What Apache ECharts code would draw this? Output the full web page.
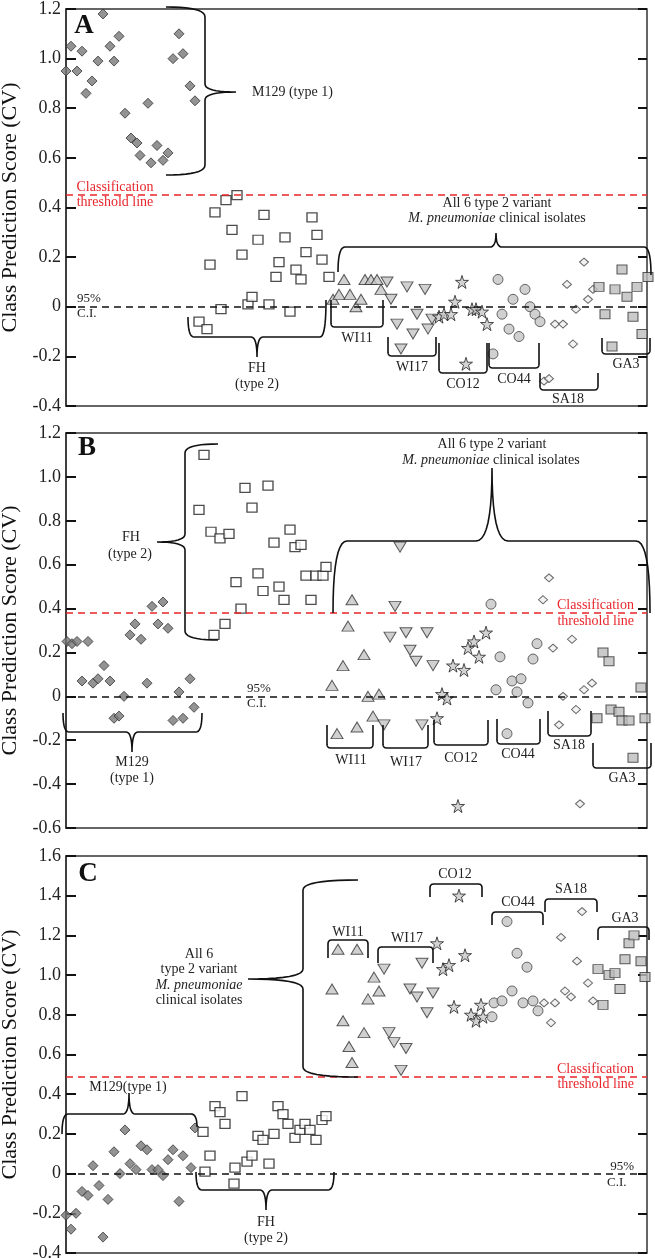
<!DOCTYPE html>
<html><head><meta charset="utf-8">
<script src="https://cdn.jsdelivr.net/npm/echarts@6/dist/echarts.min.js"></script>
<style>html,body{margin:0;padding:0;background:#fff}#c{width:655px;height:1258px}</style>
</head><body><div id="c"></div>
<script>
// x = position of the sample along the (unlabelled) horizontal axis, y = class prediction score
const groups = ['M129','FH','WI11','WI17','CO12','CO44','SA18','GA3'];
const yTitle = 'Class Prediction Score (CV)';

// ---- Panel A ----
const A_M129 = [[0,0.95],[5,1.05],[11,0.95],[16,1.03],[20,0.86],[26,0.91],[32,0.99],[37,1.18],[44,1.05],[48,0.99],[53,1.09],[59,0.78],[65,0.68],[71,0.66],[74,0.61],[82,0.82],[85,0.58],[91,0.65],[97,0.59],[102,0.62],[107,1.0],[113,1.10],[117,1.02],[124,0.89],[129,0.83]];
const A_FH = [[133,-0.06],[141,-0.09],[144,0.17],[149,0.38],[155,-0.01],[160,0.43],[166,0.31],[171,0.45],[176,0.21],[182,0.01],[186,0.04],[192,0.27],[198,0.37],[203,0.01],[210,0.12],[213,0.18],[219,0.28],[224,-0.02],[230,0.15],[235,0.11],[240,0.22],[246,0.36],[251,0.29],[256,0.19],[263,0.12]];
const A_WI11 = [[267,0.03],[273,0.05],[278,0.11],[284,0.05],[290,0.0],[295,0.03],[299,0.11],[305,0.11],[311,0.11],[315,0.07]];
const A_WI17 = [[321,0.10],[325,0.03],[331,-0.07],[335,-0.17],[341,0.08],[347,-0.11],[351,-0.03],[359,0.07],[362,-0.09],[366,-0.05]];
const A_CO12 = [[373,-0.04],[378,-0.03],[385,-0.03],[389,0.02],[396,0.10],[400,-0.23],[406,-0.01],[410,-0.01],[416,-0.02],[421,-0.07]];
const A_CO44 = [[427,-0.19],[432,0.11],[436,-0.03],[443,-0.09],[447,0.03],[453,-0.12],[459,0.07],[464,0.0],[469,-0.03],[474,-0.06]];
const A_SA18 = [[478,-0.30],[483,-0.29],[489,-0.07],[497,-0.07],[501,0.09],[507,-0.15],[510,-0.01],[518,0.18],[522,0.03],[527,0.07]];
const A_GA3 = [[533,0.08],[539,-0.03],[546,-0.16],[549,0.07],[556,0.15],[561,0.04],[567,-0.04],[571,0.08],[576,-0.11],[582,0.12]];

// ---- Panel B ----
const B_M129 = [[1,0.25],[6,0.24],[11,0.25],[16,0.07],[22,0.25],[27,0.06],[32,0.08],[38,0.14],[44,0.07],[48,-0.10],[53,-0.09],[58,0.0],[64,0.28],[69,0.33],[75,0.26],[81,0.06],[86,0.41],[92,0.33],[97,0.43],[102,0.31],[107,-0.11],[113,0.02],[117,-0.10],[124,0.08],[128,-0.05]];
const B_FH = [[133,0.85],[138,1.10],[145,0.75],[148,0.28],[154,0.72],[159,0.33],[163,0.74],[170,0.52],[175,0.40],[179,0.95],[186,0.86],[192,0.56],[197,0.48],[202,0.96],[208,0.70],[213,0.50],[218,0.44],[224,0.76],[229,0.68],[235,0.69],[240,0.55],[245,0.44],[250,0.55],[257,0.55],[260,0.59]];
const B_WI11 = [[266,0.05],[271,-0.17],[277,0.14],[282,0.32],[286,0.44],[291,-0.14],[298,0.19],[302,0.0],[307,-0.09],[313,0.01]];
const B_WI17 = [[318,-0.13],[324,0.27],[329,0.41],[334,0.68],[340,0.29],[344,0.21],[350,0.16],[356,-0.13],[361,0.29],[367,0.14]];
const B_CO12 = [[371,-0.10],[376,0.01],[381,-0.01],[387,0.14],[392,-0.50],[398,0.12],[402,0.22],[408,0.25],[413,0.18],[420,0.29]];
const B_CO44 = [[425,0.42],[430,0.03],[434,0.18],[441,-0.17],[446,0.07],[451,0.02],[455,0.08],[462,-0.03],[467,0.17],[471,0.24]];
const B_SA18 = [[477,0.44],[483,0.54],[487,0.22],[493,-0.13],[497,0.0],[506,0.26],[510,-0.06],[514,-0.49],[518,0.03],[526,0.06]];
const B_GA3 = [[531,-0.10],[537,0.20],[543,0.16],[545,-0.06],[553,-0.07],[556,-0.11],[563,-0.11],[567,-0.28],[575,0.04],[579,-0.10]];

// ---- Panel C ----
const C_M129 = [[0,-0.21],[5,-0.28],[10,-0.20],[16,-0.09],[22,-0.11],[27,0.04],[33,-0.06],[37,-0.32],[42,-0.13],[48,0.11],[54,0.0],[59,0.22],[64,0.05],[70,0.02],[75,0.14],[81,0.12],[86,0.02],[92,0.02],[97,-0.01],[102,0.07],[107,0.12],[113,-0.14],[117,0.09],[125,0.03],[129,0.23]];
const C_FH = [[137,0.21],[139,0.01],[144,0.09],[149,0.34],[154,0.31],[159,0.25],[168,-0.05],[169,0.03],[176,0.39],[181,0.06],[186,0.09],[192,0.19],[197,0.17],[203,0.05],[208,0.20],[212,0.34],[217,0.30],[222,0.25],[229,0.18],[234,0.22],[239,0.25],[244,0.22],[250,0.17],[256,0.27],[260,0.29]];
const C_WI11 = [[266,0.93],[272,1.13],[277,0.77],[283,0.64],[286,0.56],[291,1.13],[298,0.71],[302,0.88],[308,0.99],[313,0.92]];
const C_WI17 = [[318,1.03],[323,0.71],[328,0.66],[335,0.52],[340,0.63],[344,0.93],[351,0.89],[356,1.06],[361,0.81],[367,0.91]];
const C_CO12 = [[371,1.16],[377,1.03],[383,1.05],[388,0.84],[393,1.40],[399,1.10],[405,0.80],[410,0.77],[415,0.85],[417,0.79]];
const C_CO44 = [[426,0.79],[428,0.86],[436,0.87],[441,1.27],[446,0.92],[451,1.11],[457,0.86],[461,1.04],[467,0.87],[472,0.82]];
const C_SA18 = [[478,0.86],[485,0.76],[489,0.86],[495,1.19],[499,0.92],[505,0.89],[511,1.07],[516,1.32],[522,0.96],[527,0.87]];
const C_GA3 = [[532,1.03],[537,0.85],[543,1.00],[549,1.01],[554,0.93],[559,1.08],[563,1.16],[568,1.20],[575,1.07],[579,0.99]];

const thresholds = [0.45, 0.38, 0.49];
const yMins = [-0.4, -0.6, -0.4];
const yMaxs = [1.2, 1.2, 1.6];
const panelLetters = ['A','B','C'];

const panelData = [
  [A_M129,A_FH,A_WI11,A_WI17,A_CO12,A_CO44,A_SA18,A_GA3],
  [B_M129,B_FH,B_WI11,B_WI17,B_CO12,B_CO44,B_SA18,B_GA3],
  [C_M129,C_FH,C_WI11,C_WI17,C_CO12,C_CO44,C_SA18,C_GA3]
];

const FONT = 'Liberation Serif';
const RED = '#e8262b';
const STAR = 'path://M50,2 L61,36 L97,36 L68,57 L79,92 L50,71 L21,92 L32,57 L3,36 L39,36 Z';
const styles = {
  M129:{symbol:'diamond',symbolSize:[10,10],itemStyle:{color:'#787878',borderColor:'#333',borderWidth:1}},
  FH:{symbol:'rect',symbolSize:[10,9],itemStyle:{color:'#fff',borderColor:'#222',borderWidth:1.3}},
  WI11:{symbol:'triangle',symbolSize:[12,10],itemStyle:{color:'#c4c4c4',borderColor:'#333',borderWidth:1}},
  WI17:{symbol:'triangle',symbolRotate:180,symbolSize:[12,10],itemStyle:{color:'#c4c4c4',borderColor:'#333',borderWidth:1}},
  CO12:{symbol:STAR,symbolSize:[13,13],itemStyle:{color:'#c8c8c8',borderColor:'#222',borderWidth:1}},
  CO44:{symbol:'circle',symbolSize:10,itemStyle:{color:'#c4c4c4',borderColor:'#444',borderWidth:1}},
  SA18:{symbol:'diamond',symbolSize:[9,8],itemStyle:{color:'#efefef',borderColor:'#444',borderWidth:1}},
  GA3:{symbol:'rect',symbolSize:[10,9],itemStyle:{color:'#bdbdbd',borderColor:'#333',borderWidth:1}}
};

const gridTops = [9, 433, 856];
const gridHeights = [397, 395, 397];

const grids = [], xAxes = [], yAxes = [], series = [];
const fmt = v => Math.abs(v) < 1e-9 ? '0' : v.toFixed(1);
for (let i = 0; i < 3; i++) {
  grids.push({left:66, right:8, top:gridTops[i], height:gridHeights[i], containLabel:false, outerBoundsMode:'none',
    show:true, borderColor:'#333', borderWidth:1.5, backgroundColor:'transparent'});
  xAxes.push({gridIndex:i, type:'value', min:0, max:581, show:false});
}
for (let i = 0; i < 3; i++) {
  yAxes.push({gridIndex:i, type:'value', min:yMins[i], max:yMaxs[i], interval:0.2, position:'left',
    name:yTitle, nameLocation:'middle', nameGap:44,
    nameTextStyle:{fontFamily:FONT, fontSize:22, color:'#111'},
    axisLine:{show:true, lineStyle:{color:'#333', width:1.5}},
    axisTick:{show:true, inside:true, length:10, lineStyle:{color:'#111', width:2}},
    axisLabel:{margin:5, formatter:fmt, fontFamily:FONT, fontSize:18, color:'#222'},
    splitLine:{show:false}});
}
for (let i = 0; i < 3; i++) {
  yAxes.push({gridIndex:i, type:'value', min:yMins[i], max:yMaxs[i], interval:0.2, position:'right',
    axisLine:{show:false}, axisTick:{show:true, inside:true, length:9, lineStyle:{color:'#111', width:2}},
    axisLabel:{show:false}, splitLine:{show:false}});
}
for (let i = 0; i < 3; i++) {
  groups.forEach((g, k) => {
    const s = Object.assign({type:'scatter', name:panelLetters[i]+' '+g, xAxisIndex:i, yAxisIndex:i,
      data:panelData[i][k], clip:false, z:3, silent:true}, styles[g]);
    if (k === 0) {
      s.markLine = {silent:true, symbol:['none','none'], label:{show:false}, animation:false,
        data:[
          {yAxis:0, lineStyle:{color:'#111', type:[7,5], width:1.6}},
          {yAxis:thresholds[i], lineStyle:{color:RED, type:[7,5], width:1.6}}
        ]};
    }
    series.push(s);
  });
}

// ---- annotation helpers (curves sampled into polylines) ----
function Shape(x, y){ this.pts = [[x, y]]; }
Shape.prototype.L = function(x, y){ this.pts.push([x, y]); return this; };
Shape.prototype.Q = function(cx, cy, x, y){
  const p = this.pts[this.pts.length-1];
  for (let t = 1; t <= 10; t++) { const u = t/10, a = 1-u;
    this.pts.push([a*a*p[0] + 2*a*u*cx + u*u*x, a*a*p[1] + 2*a*u*cy + u*u*y]); }
  return this;
};
function P(sh, lw){ return {type:'polyline', shape:{points:sh.pts}, style:{fill:null, stroke:'#111', lineWidth:lw||1.6}, z:10, silent:true}; }
function T(s, x, y, o){ return {type:'text', x:x, y:y, z:10, silent:true,
  style:Object.assign({text:s, fontFamily:FONT, fontSize:14, fill:'#222', align:'center', verticalAlign:'middle'}, o||{})}; }
function vBrace(x, y1, y2, endX, tipX, tipY, r, w){
  return new Shape(endX, y1).Q(x, y1, x, y1+r).L(x, tipY-w).Q(x, tipY, tipX, tipY)
    .Q(x, tipY, x, tipY+w).L(x, y2-r).Q(x, y2, endX, y2);
}
function hBrace(y, x1, x2, e1, e2, tipX, tipY, r, w){
  return new Shape(x1, e1).Q(x1, y, x1+r, y).L(tipX-w, y).Q(tipX, y, tipX, tipY)
    .Q(tipX, y, tipX+w, y).L(x2-r, y).Q(x2, y, x2, e2);
}
function bracket(x1, x2, yEnd, yBase){
  const r = 4, s = yBase > yEnd ? -1 : 1;
  return new Shape(x1, yEnd).L(x1, yBase+s*r).Q(x1, yBase, x1+r, yBase).L(x2-r, yBase)
    .Q(x2, yBase, x2, yBase+s*r).L(x2, yEnd);
}
const italicRich = {i:{fontStyle:'italic', fontFamily:FONT, fontSize:14, fill:'#222'}};

const G = [];
// Panel A
G.push(T('A', 84, 26, {fontSize:27, fontWeight:'bold', fill:'#111'}));
G.push(P(vBrace(205, 7, 175, 166, 236, 92, 10, 8)));
G.push(T('M129 (type 1)', 252, 92, {align:'left'}));
G.push(P(hBrace(337, 188, 326, 317, 300, 257, 357, 6, 6)));
G.push(T('FH', 257, 368), T('(type 2)', 257, 384));
G.push(T('Classification', 115, 187, {fill:RED}), T('threshold line', 115, 202, {fill:RED}));
G.push(T('95%', 77, 299, {align:'left', fontSize:13}), T('C.I.', 77, 314, {align:'left', fontSize:13}));
G.push(P(hBrace(247, 338, 651, 272, 275, 496, 233, 7, 6)));
G.push(T('All 6 type 2 variant', 497, 203));
G.push(T('{i|M. pneumoniae} clinical isolates', 497, 218, {rich:italicRich}));
[[331,383,300,327,'WI11',357,338],[388,436,337,356,'WI17',412,367],[439,487,343,373,'CO12',463,384],
 [489,539,343,368,'CO44',514,379],[540,598,373,390,'SA18',568,399],[602,650,338,354,'GA3',626,364]]
 .forEach(b => { G.push(P(bracket(b[0],b[1],b[2],b[3]))); G.push(T(b[4], b[5], b[6])); });

// Panel B
G.push(T('B', 87, 448, {fontSize:27, fontWeight:'bold', fill:'#111'}));
G.push(P(vBrace(185, 444, 640, 218, 157, 542, 9, 8)));
G.push(T('FH', 131, 537), T('(type 2)', 130, 554));
G.push(P(hBrace(732, 63, 202, 713, 713, 132, 752, 6, 6)));
G.push(T('M129', 132, 762), T('(type 1)', 132, 778));
G.push(T('95%', 247, 689, {align:'left', fontSize:13}), T('C.I.', 247, 704, {align:'left', fontSize:13}));
G.push(P(hBrace(541, 333, 650, 613, 613, 492, 468, 14, 16)));
G.push(T('All 6 type 2 variant', 492, 444));
G.push(T('{i|M. pneumoniae} clinical isolates', 491, 460, {rich:italicRich}));
G.push(T('Classification', 634, 605, {fill:RED, align:'right'}), T('threshold line', 634, 621, {fill:RED, align:'right'}));
[[327,373,725,748,'WI11',351,760],[383,428,725,748,'WI17',406,762],[434,488,720,745,'CO12',461,758],
 [497,540,719,744,'CO44',518,754],[548,591,711,736,'SA18',569,745],[593,651,743,768,'GA3',622,778]]
 .forEach(b => { G.push(P(bracket(b[0],b[1],b[2],b[3]))); G.push(T(b[4], b[5], b[6])); });

// Panel C
G.push(T('C', 88, 874, {fontSize:27, fontWeight:'bold', fill:'#111'}));
G.push(P(vBrace(303, 880, 1077, 358, 248, 979, 10, 10)));
G.push(T('All 6', 199, 954), T('type 2 variant', 199, 969));
G.push(T('{i|M. pneumoniae}', 199, 985, {rich:italicRich}), T('clinical isolates', 199, 1000));
G.push(P(hBrace(1114, 62, 197, 1134, 1127, 129, 1093, 6, 6)));
G.push(T('M129(type 1)', 128, 1087));
G.push(P(hBrace(1190, 196, 334, 1172, 1172, 266, 1210, 6, 6)));
G.push(T('FH', 266, 1222), T('(type 2)', 266, 1238));
G.push(T('Classification', 634, 1069, {fill:RED, align:'right'}), T('threshold line', 634, 1084, {fill:RED, align:'right'}));
G.push(T('95%', 634, 1167, {align:'right', fontSize:13}), T('C.I.', 607, 1183, {align:'left', fontSize:13}));
[[328,368,958,940,'WI11',348,932],[378,433,963,947,'WI17',407,938],[430,482,897,884,'CO12',455,874],
 [492,543,925,912,'CO44',518,902],[545,597,912,899,'SA18',571,889],[598,649,940,927,'GA3',625,918]]
 .forEach(b => { G.push(P(bracket(b[0],b[1],b[2],b[3]))); G.push(T(b[4], b[5], b[6])); });

const chart = echarts.init(document.getElementById('c'), null, {renderer:'canvas'});
chart.setOption({
  animation:false,
  backgroundColor:'#fff',
  grid:grids, xAxis:xAxes, yAxis:yAxes, series:series,
  graphic:G
});
</script></body></html>
